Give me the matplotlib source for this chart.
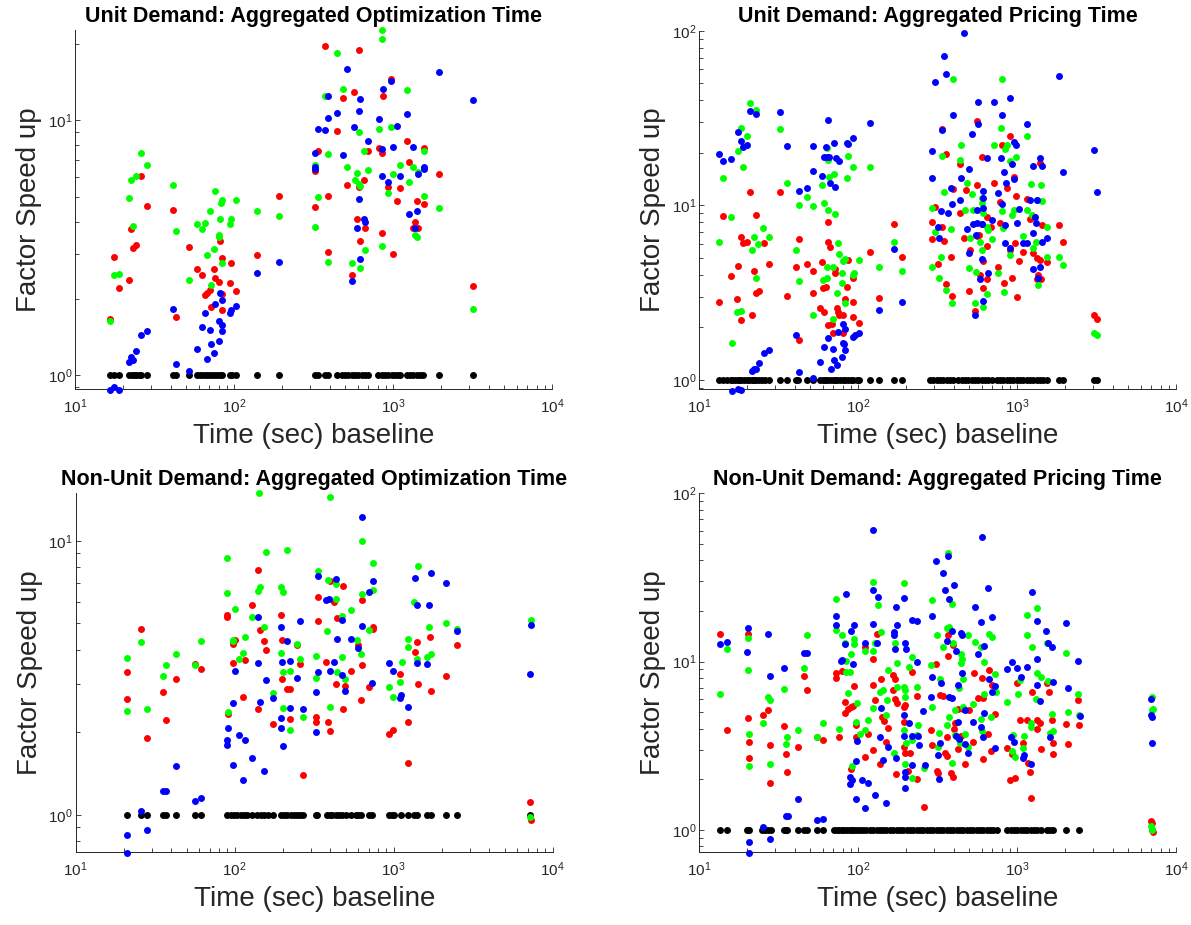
import numpy as np
import matplotlib
matplotlib.use("Agg")
import matplotlib.pyplot as plt
from matplotlib.ticker import LogLocator, NullFormatter

plt.rcParams['font.family'] = ['Liberation Sans', 'DejaVu Sans']
plt.rcParams['mathtext.fontset'] = 'custom'
plt.rcParams['mathtext.rm'] = 'Liberation Sans'
plt.rcParams['mathtext.it'] = 'Liberation Sans:italic'
plt.rcParams['mathtext.bf'] = 'Liberation Sans:bold'

# ---------------- data ----------------
titles = ["Unit Demand: Aggregated Optimization Time",
          "Unit Demand: Aggregated Pricing Time",
          "Non-Unit Demand: Aggregated Optimization Time",
          "Non-Unit Demand: Aggregated Pricing Time"]
xlabel_text = "Time (sec) baseline"
ylabel_text = "Factor Speed up"
baseline_speedup = 1.0

# Panel 1: Unit demand, optimization time
p1_black_x = [16.6, 17.6, 18.9, 22.0, 22.7, 23.5, 24.2, 25.1, 26.0, 28.2, 41.5, 43.2, 52.4, 58.2, 60.9,
              63.9, 66.8, 69.1, 71.7, 75.3, 77.9, 81.7, 83.6, 94.4, 96.8, 102.5, 139, 192,
              323, 339, 373, 392, 442, 475, 500, 524, 550, 577, 605, 635, 667, 700, 810, 849, 891,
              935, 981, 1030, 1080, 1107, 1222, 1283, 1343, 1410, 1480, 1553, 1955, 3200]
p1_red = [(16.6, 1.66), (17.6, 2.90), (18.9, 2.21), (22.0, 2.37), (22.5, 3.74), (23.1, 3.17), (24.2, 3.24),
          (25.9, 6.03), (28.2, 4.61), (41.5, 4.45), (43.2, 1.70), (52.4, 3.18), (58.2, 2.61), (62.6, 2.47),
          (65.8, 2.07), (68, 2.10), (70.6, 2.16), (71.3, 1.85), (74.8, 2.61), (75.9, 2.40), (80.5, 2.33),
          (81.7, 3.37), (83.5, 2.89), (83.5, 2.08), (83.5, 1.80), (94.4, 2.31), (96.2, 2.77), (102.5, 2.15),
          (139, 2.96), (192, 5.03),
          (373, 19.6), (614, 18.9), (971, 14.5), (570, 12.9), (487, 12.2), (869, 12.5), (442, 9.1), (339, 7.56),
          (700, 7.6), (813, 7.8), (849, 7.45), (1231, 8.3), (1567, 7.8), (323, 6.34), (1267, 6.87),
          (1955, 6.15), (660, 5.86), (512, 5.57), (614, 5.48), (926, 5.48), (1107, 5.43), (388, 5.04),
          (1054, 4.82), (1422, 4.85), (1567, 4.72), (323, 4.58), (597, 4.09), (667, 3.77), (1375, 4.0),
          (1343, 3.77), (1443, 3.78), (620, 3.36), (849, 3.62), (392, 3.04), (1005, 2.99), (550, 2.48),
          (3200, 2.25)]
p1_green = [(16.6, 1.64), (17.6, 2.48), (18.9, 2.50), (22.0, 4.94), (22.5, 5.83), (24.1, 6.04), (23.1, 3.85),
            (25.9, 7.45), (28.2, 6.67), (41.5, 5.58), (43.2, 3.69), (52.4, 2.37), (58.2, 3.92), (62.6, 3.75),
            (65.8, 3.95), (68, 2.96), (70.6, 4.42), (71.3, 2.26), (74.8, 3.14), (75.9, 5.27), (80.5, 3.55),
            (80.5, 3.50), (81.7, 4.11), (82.8, 4.75), (83.5, 4.88), (83.5, 2.77), (94.4, 3.91), (96.2, 4.09),
            (102.5, 4.86), (139, 4.41), (192, 4.22),
            (849, 22.5), (849, 20.9), (442, 18.3), (487, 13.3), (373, 12.5), (1231, 13.2), (614, 9.0),
            (813, 9.22), (971, 9.4), (660, 7.6), (1567, 7.6), (388, 7.35), (323, 6.71), (512, 6.55),
            (700, 6.41), (1107, 6.71), (1343, 6.57), (1005, 6.15), (1443, 6.3), (597, 6.19), (577, 5.86),
            (614, 5.65), (620, 5.55), (1267, 5.74), (926, 5.19), (339, 5.0), (1567, 5.04), (1955, 4.55),
            (323, 3.83), (849, 3.22), (667, 3.10), (392, 2.79), (550, 2.75), (620, 2.64), (1375, 3.55),
            (1422, 3.50), (3200, 1.82)]
p1_blue = [(16.6, 0.875), (17.6, 0.898), (18.9, 0.88), (22.0, 1.127), (22.5, 1.186), (23.1, 1.145),
           (24.2, 1.25), (25.9, 1.44), (28.2, 1.50), (41.5, 1.82), (43.2, 1.11), (52.4, 1.04), (58.2, 1.27),
           (62.6, 1.55), (65.8, 1.75), (68, 1.16), (70.6, 1.51), (71.3, 1.33), (74.8, 1.23), (75.9, 1.91),
           (80.5, 1.63), (80.5, 1.36), (81.7, 2.11), (83.5, 1.98), (83.5, 1.58), (83.5, 1.49), (94.4, 1.76),
           (96.2, 1.81), (102.5, 1.87), (139, 2.51), (192, 2.79),
           (512, 15.9), (1955, 15.5), (971, 14.2), (869, 13.3), (388, 12.5), (620, 12.1), (3200, 12.0),
           (614, 10.9), (442, 10.7), (1231, 10.6), (392, 10.2), (813, 10.15), (339, 9.25), (373, 9.14),
           (570, 9.42), (1054, 9.48), (700, 8.3), (849, 7.75), (1005, 7.85), (1343, 7.85), (323, 7.47),
           (487, 7.3), (323, 6.57), (323, 6.47), (1567, 6.47), (1567, 6.57), (1443, 6.15), (849, 6.05),
           (1107, 6.05), (926, 5.71), (614, 4.92), (1267, 4.29), (1422, 4.42), (660, 4.1), (667, 4.0),
           (597, 3.79), (1375, 3.80), (620, 2.85), (550, 2.35)]

# Panel 2: Unit demand, pricing time
p2_black_x = [13.4, 14.1, 15.1, 15.8, 16.2, 16.9, 17.5, 17.9, 18.5, 19.2, 19.9, 20.7, 21.4, 22.2, 22.8,
              23.8, 24.8, 26.0, 27.7, 32.3, 35.9, 40.7, 42.2, 47.6, 51.9, 57.7, 59.9, 62.0, 64.1, 66.7,
              69.3, 71.6, 74.1, 77, 80, 82.8, 86.9, 89.9, 93.4, 98.1, 101.5, 119, 136, 168, 189,
              284, 298, 313, 328, 344, 361, 379, 398, 428, 449, 471, 494, 519, 544, 571, 600, 629, 660,
              693, 745, 782, 820, 861, 904, 948, 995, 1044, 1097, 1151, 1207, 1267, 1330, 1396, 1465,
              1537, 1846, 1960, 3030, 3170]
p2_red = [(13.4, 2.79), (14.1, 8.68), (15.8, 3.94), (17.3, 2.92), (17.7, 4.49), (18.3, 6.61), (18.8, 6.11),
          (18.5, 2.21), (19.9, 6.19), (20.9, 12.0), (21.4, 2.36), (22.2, 4.22), (22.8, 8.75), (22.8, 3.16),
          (23.8, 3.22), (25.6, 6.06), (27.7, 4.61), (32.3, 12.0), (35.9, 3.03), (40.7, 4.45), (42.6, 6.39),
          (42.6, 1.69), (47.6, 4.61), (51.9, 4.22), (51.9, 3.16), (57.7, 2.60), (59.1, 4.76), (60.5, 3.35),
          (61.1, 2.46), (62.5, 3.42), (65, 8.0), (65, 6.19), (66.7, 5.80), (65, 2.07), (68.3, 2.09),
          (69.9, 1.86), (71.6, 4.35), (71.6, 4.08), (73.4, 2.60), (75.2, 2.46), (76, 2.36), (80.9, 2.36),
          (80.9, 1.86), (82.8, 2.90), (84.9, 3.42), (86.9, 4.86), (92.5, 3.82), (93.4, 2.78), (92.5, 2.30),
          (101, 2.13), (119, 5.43), (136, 2.96), (168, 7.81), (189, 5.05),
          (336, 27.5), (564, 30.4), (904, 25), (801, 22.1), (360, 19.6), (600, 19), (438, 17.3), (1396, 17.4),
          (960, 14.6), (564, 13.0), (717, 13.4), (861, 12.6), (398, 12.4), (479, 12.2), (1151, 10.9),
          (990, 11.3), (782, 10.5), (305, 9.78), (438, 9.1), (645, 8.55), (690, 7.54), (1207, 8.31),
          (782, 7.89), (1430, 7.7), (1846, 7.7), (291, 8.0), (336, 7.54), (600, 7.8), (557, 6.67),
          (464, 6.47), (291, 6.45), (349, 6.28), (578, 6.73), (971, 6.05), (1957, 6.19), (508, 5.55),
          (652, 5.85), (904, 5.55), (1097, 5.43), (382, 5.04), (1255, 5.31), (1330, 4.98), (1396, 4.88),
          (1537, 4.71), (1035, 4.82), (608, 4.82), (320, 4.59), (763, 4.45), (1346, 3.99), (1330, 3.77),
          (1413, 3.80), (585, 3.99), (926, 3.82), (652, 3.77), (831, 3.61), (614, 3.35), (357, 3.55),
          (390, 3.03), (501, 3.23), (995, 3.0), (544, 2.48), (3050, 2.36), (3170, 2.24)]
p2_green = [(13.4, 6.13), (14.1, 14.3), (15.8, 8.61), (16.2, 1.64), (17.3, 2.46), (17.7, 20.6), (18.3, 27.9),
            (18.8, 16.6), (19.9, 24.9), (20.9, 38.7), (21.4, 5.55), (22.2, 6.61), (22.8, 35.1), (22.8, 3.82),
            (23.6, 6.0), (25.4, 7.45), (27.7, 6.61), (18.5, 2.49), (32.3, 27.3), (35.9, 13.5), (40.7, 5.55),
            (42.6, 10.1), (42.6, 3.70), (47.6, 11.1), (51.9, 9.91), (51.9, 2.36), (59.1, 13.1), (61.1, 10.3),
            (63.5, 21.2), (65, 9.45), (65, 18.3), (65.8, 14.6), (70.6, 15.1), (71.6, 8.92), (63.5, 4.41),
            (63.5, 3.82), (60.5, 3.73), (69.9, 4.41), (73.4, 3.13), (75.2, 6.06), (76.3, 5.27), (78.9, 4.08),
            (78.9, 3.58), (80.9, 4.83), (82.8, 4.91), (82.8, 2.75), (69.9, 2.25), (84.9, 14.4), (86.9, 19.2),
            (92.5, 16.6), (92.5, 3.99), (94.3, 4.08), (101, 4.86), (119, 16.6), (136, 4.41), (168, 6.19),
            (189, 4.22),
            (398, 52.6), (801, 52.6), (795, 27.8), (1151, 24.9), (442, 22.3), (717, 22.3), (861, 22.3),
            (841, 20.9), (336, 19.2), (438, 18.3), (990, 18.9), (898, 18.0), (482, 13.5), (1219, 13.2),
            (1410, 13.0), (349, 12.0), (519, 11.6), (605, 11.0), (605, 10.3), (291, 9.7), (474, 9.4),
            (531, 9.35), (608, 9.1), (801, 9.3), (960, 9.35), (1151, 9.35), (1330, 10.7), (1430, 10.6),
            (926, 8.8), (1237, 8.8), (382, 7.29), (305, 7.06), (645, 7.54), (660, 7.24), (820, 7.4),
            (1537, 7.54), (508, 6.47), (585, 6.19), (693, 6.4), (1097, 6.67), (1267, 5.67), (1315, 6.19),
            (600, 5.55), (910, 5.19), (334, 5.04), (291, 4.45), (501, 4.36), (551, 4.14), (763, 4.08),
            (1537, 5.04), (1846, 5.04), (1936, 4.55), (323, 3.82), (360, 3.27), (652, 3.11), (831, 3.20),
            (1362, 3.50), (390, 2.77), (544, 2.75), (614, 2.63), (3050, 1.87), (3170, 1.81)]
p2_blue = [(13.4, 19.6), (14.1, 18.0), (15.8, 18.4), (17.7, 26.4), (18.3, 23.4), (18.8, 21.5), (19.9, 22.1),
           (20.9, 34.8), (22.8, 33.2), (32.3, 34.1), (35.9, 21.8), (42.6, 12.1), (47.6, 12.5), (51.9, 21.8),
           (52.4, 15.8), (59.1, 14.7), (61.1, 18.8), (63, 21.5), (63.5, 18.8), (65, 30.7), (65.8, 19.0),
           (66.7, 13.5), (70.6, 22.8), (71.6, 12.8), (72.7, 18.6), (75.9, 17.9), (84.9, 22.8), (86.9, 22.4),
           (92.5, 24.2), (119, 29.5), (168, 5.60), (136, 2.52), (189, 2.79),
           (16.2, 0.87), (17.5, 0.89), (18.5, 0.875), (21.4, 1.12), (22.2, 1.15), (22.8, 1.16), (23.8, 1.25),
           (25.6, 1.43), (27.7, 1.48), (40.7, 1.81), (42.6, 1.11), (51.9, 1.03), (57.7, 1.27), (61.1, 1.55),
           (65, 1.73), (67.3, 1.15), (69.9, 1.50), (70.6, 1.31), (74.1, 1.22), (75.2, 1.88), (78.9, 1.36),
           (80, 2.10), (80.9, 1.64), (81.6, 1.60), (82.8, 1.96), (82.8, 1.48), (92.5, 1.76), (95.5, 1.81),
           (101, 1.87),
           (467, 96.5), (349, 71.6), (357, 56.5), (305, 51.0), (1846, 55), (571, 38.9), (717, 38.9),
           (904, 41.3), (398, 32.9), (801, 32.9), (336, 27), (571, 29.1), (1151, 29.1), (519, 25.5),
           (960, 23.1), (990, 22.1), (291, 20.5), (3050, 20.7), (651, 18.6), (795, 18.6), (926, 17.3),
           (1396, 18.6), (1255, 16.7), (1430, 16.8), (501, 16.1), (1936, 15.6), (823, 15.6), (291, 14.4),
           (442, 14.4), (960, 14.2), (853, 13.4), (3170, 12.0), (385, 12.5), (608, 12.1), (763, 11.8),
           (608, 11.0), (801, 10.2), (438, 10.7), (388, 10.2), (1207, 10.7), (1330, 10.7), (331, 9.25),
           (370, 9.1), (1035, 9.48), (564, 9.4), (608, 9.6), (693, 8.25), (1298, 8.61), (320, 7.5),
           (531, 7.8), (557, 7.95), (600, 7.8), (841, 7.7), (995, 7.89), (482, 7.29), (1315, 7.89),
           (1267, 6.97), (323, 6.47), (1537, 6.47), (1430, 6.13), (551, 6.75), (841, 6.05), (1097, 6.05),
           (1151, 6.05), (910, 5.67), (501, 5.31), (600, 4.91), (1255, 4.30), (1396, 4.42), (585, 3.78),
           (660, 4.08), (1346, 3.82), (614, 2.84), (544, 2.36)]

# Panel 3: Non-unit demand, optimization time
p3_black_x = [20.9, 25.6, 28.2, 35.6, 36.8, 43.0, 56.3, 61.7, 89.1, 94.4, 99.0, 104, 109, 114, 120, 129,
              138, 146, 153, 161, 175, 195, 204, 214, 225, 236, 248, 258, 267,
              323, 331, 383, 398, 411, 432, 454, 475, 500, 537, 577, 597, 620, 700, 734, 935, 981, 1005,
              1107, 1222, 1343, 1410, 1629, 1708, 2123, 2517, 7166]
p3_red = [(20.9, 3.33), (20.9, 2.64), (25.6, 4.77), (28.2, 1.90), (35.6, 2.81), (36.8, 2.21), (43.0, 3.13),
          (56.3, 3.55), (61.7, 3.40), (89.1, 5.37), (89.1, 5.25), (91.3, 2.33), (98.1, 4.20), (100, 4.35),
          (98.1, 3.58), (113, 2.70), (116, 3.68), (129, 5.84), (140, 7.84), (144, 4.71), (140, 2.44),
          (152, 4.32), (157, 4.0), (175, 2.14), (195, 5.36), (197, 4.35), (197, 3.13), (214, 2.87),
          (222, 2.87), (222, 2.23), (248, 4.15), (258, 3.56), (267, 1.40),
          (395, 7.14), (480, 6.86), (336, 6.26), (629, 6.06), (422, 6.0), (336, 5.1), (438, 5.21),
          (741, 4.85), (741, 4.77), (597, 4.16), (1683, 4.47), (1409, 4.26), (1356, 3.92), (2517, 4.17),
          (373, 3.60), (537, 3.35), (633, 3.52), (1097, 3.27), (432, 3.0), (494, 2.96), (700, 2.94),
          (1422, 2.99), (2123, 3.20), (1726, 2.84), (480, 2.43), (620, 2.63), (323, 2.27), (323, 2.18),
          (385, 2.18), (398, 2.03), (1231, 2.19), (935, 1.98), (990, 2.04), (1231, 1.54), (7166, 1.11),
          (7280, 0.96)]
p3_green = [(20.9, 3.73), (20.9, 2.40), (25.6, 4.29), (28.2, 2.44), (35.6, 3.21), (36.8, 3.52), (43.0, 3.85),
            (56.3, 3.51), (61.7, 4.32), (89.1, 8.65), (89.1, 6.44), (91.3, 2.37), (98.1, 4.35), (98.1, 4.3),
            (100, 5.63), (107, 3.70), (113, 3.89), (116, 4.47), (129, 5.26), (140, 6.57), (144, 6.81),
            (142, 14.9), (152, 4.84), (157, 9.09), (175, 2.78), (195, 6.81), (200, 6.48), (195, 3.91),
            (200, 3.31), (200, 2.45), (214, 9.22), (222, 2.04), (222, 3.36), (248, 4.19), (258, 3.70),
            (267, 2.28),
            (395, 14.4), (629, 9.94), (741, 8.33), (336, 7.79), (388, 7.2), (1422, 8.11), (629, 6.39),
            (436, 6.94), (741, 6.59), (436, 6.14), (475, 5.3), (537, 5.57), (1343, 5.96), (1667, 4.85),
            (2123, 5.01), (2517, 4.78), (378, 4.67), (700, 4.71), (590, 4.35), (1231, 4.38), (1231, 4.08),
            (620, 3.86), (323, 3.81), (475, 3.78), (1122, 3.61), (1409, 3.70), (1629, 3.76), (1726, 3.85),
            (438, 3.31), (323, 3.17), (494, 3.13), (935, 2.94), (1097, 3.06), (990, 2.69), (398, 2.47),
            (7280, 5.13), (7166, 0.985)]
p3_blue = [(20.9, 0.845), (20.9, 0.725), (25.6, 1.03), (28.2, 0.88), (35.6, 1.22), (36.8, 1.22), (43.0, 1.51),
           (56.3, 1.12), (61.7, 1.15), (89.1, 1.88), (89.9, 1.80), (91.3, 2.07), (98.1, 2.56), (100, 3.36),
           (98.1, 1.52), (107, 1.96), (113, 1.34), (116, 1.88), (129, 1.61), (140, 5.29), (140, 3.58),
           (144, 2.59), (152, 1.44), (157, 3.11), (175, 2.67), (195, 4.83), (197, 3.60), (195, 2.25),
           (195, 2.07), (200, 1.78), (214, 4.32), (222, 3.63), (222, 2.45), (248, 3.16), (258, 5.08),
           (267, 2.43),
           (629, 12.2), (336, 7.41), (432, 7.23), (741, 7.14), (700, 6.53), (1356, 7.29), (1726, 7.62),
           (2123, 7.01), (373, 6.06), (392, 6.12), (1409, 5.84), (1667, 5.81), (475, 5.16), (629, 4.88),
           (2517, 4.69), (438, 4.38), (537, 4.38), (597, 4.07), (422, 3.61), (398, 3.36), (336, 3.31),
           (935, 3.57), (990, 3.35), (1409, 3.58), (1629, 3.56), (475, 3.25), (494, 2.84), (323, 2.80),
           (734, 3.04), (1118, 2.74), (1097, 2.66), (1231, 2.47), (323, 2.01), (7166, 3.27), (7280, 4.94)]

# Panel 4: Non-unit demand, pricing time
p4_black_x = [13.6, 15.1, 19.9, 20.4, 20.7, 24.8, 26.0, 27.3, 28.2, 34.4, 35.2, 35.9, 42.2, 45.9, 47.6,
              55.5, 60.5, 70.6, 73.4, 76.3, 78.9, 81.6, 84.9, 88.5, 91.2, 94.3, 98.1, 103, 108, 113, 119,
              125, 131, 137, 144, 151, 159, 167, 175, 184, 193, 202, 212, 223, 234, 245,
              258, 270, 284, 298, 313, 328, 344, 361, 379, 398, 418, 438, 459, 482, 506, 531, 557, 585,
              614, 645, 676, 710, 745, 869, 913, 958, 1005, 1055, 1107, 1161, 1219, 1280, 1343, 1409,
              1537, 1612, 1693, 2025, 2445, 7070]
p4_red = [(13.6, 14.6), (15.1, 3.93), (20.2, 14.6), (20.2, 4.61), (20.6, 3.35), (20.6, 2.67), (25.4, 4.82),
          (27.3, 5.16), (28.0, 3.18), (28.0, 1.91), (34.4, 4.15), (35.2, 2.83), (35.9, 2.22), (42.2, 3.13),
          (45.9, 8.22), (47.6, 6.79), (55.5, 3.55), (60.5, 3.43), (72.5, 8.6), (72.5, 7.96), (76.3, 3.55),
          (79.5, 8.8), (82.8, 5.79), (82.8, 4.98), (86.9, 5.2), (89.9, 2.29), (89.9, 5.4), (93.4, 5.45),
          (94.3, 7.2), (97.2, 4.21), (96.8, 3.58), (110, 12.3), (111, 2.73), (115, 3.72), (125, 10.4),
          (124, 7.27), (128, 5.92), (125, 2.97), (131, 14.6), (139, 7.86), (137, 2.47), (141, 4.71),
          (145, 4.47), (151, 3.35), (155, 4.02), (167, 8.34), (171, 7.86), (167, 6.79), (171, 5.98),
          (175, 5.71), (173, 2.15), (195, 5.4), (198, 5.53), (195, 4.40), (195, 3.13), (198, 2.88),
          (212, 2.88), (205, 2.25), (220, 8.72), (236, 2.02), (234, 6.25),
          (370, 14.4), (398, 12.6), (366, 10.8), (310, 9.65), (539, 8.6), (600, 7.96), (670, 8.95),
          (700, 7.27), (571, 6.06), (608, 6.06), (328, 6.34), (344, 6.25), (1248, 6.64), (995, 7.5),
          (1537, 7.5), (1590, 6.64), (2432, 5.92), (2470, 4.21), (2025, 4.27), (1652, 4.5), (1680, 3.27),
          (1693, 2.82), (1044, 4.5), (1151, 4.5), (1330, 4.5), (1396, 4.30), (1330, 3.97), (2083, 3.24),
          (428, 5.2), (458, 5.2), (501, 5.16), (727, 4.9), (289, 3.93), (403, 3.97), (408, 4.30),
          (446, 3.62), (526, 3.35), (660, 3.72), (291, 3.2), (361, 3.58), (428, 3.03), (352, 2.85),
          (364, 2.76), (315, 2.25), (320, 2.17), (385, 2.17), (398, 2.06), (471, 2.46), (608, 2.64),
          (686, 2.96), (869, 3.06), (926, 2.82), (1087, 3.27), (1168, 2.49), (1207, 2.20), (1409, 3.03),
          (904, 1.98), (971, 2.05), (1225, 1.54), (260, 1.37), (6930, 1.13), (7100, 1.10), (7200, 0.977)]
p4_green = [(13.6, 6.4), (15.1, 11.9), (20.2, 8.95), (20.2, 13.9), (20.6, 3.7), (20.6, 2.4), (25.4, 4.3),
            (27.3, 6.15), (28.0, 5.92), (28.0, 2.46), (34.4, 6.86), (35.2, 3.22), (35.9, 3.55), (42.2, 3.9),
            (45.9, 9.13), (47.6, 14.3), (55.5, 3.55), (60.5, 4.34), (72.5, 23.7), (72.5, 15.5), (76.3, 3.97),
            (79.5, 14.3), (82.8, 12.9), (83.9, 10.1), (83.5, 8.72), (88.5, 8.66), (86.9, 6.5), (89.9, 11.1),
            (94.3, 13.6), (94.3, 12.8), (96.8, 4.36), (98.1, 5.66), (91.2, 2.39), (103, 3.72), (110, 11.5),
            (111, 3.93), (115, 4.5), (124, 29.9), (125, 11.6), (127, 12.9), (125, 5.28), (134, 21.7),
            (140, 14.9), (137, 6.58), (143, 6.79), (150, 4.82), (153, 5.92), (155, 8.95), (168, 2.85),
            (171, 12.9), (175, 9.78), (175, 7.05), (195, 29.5), (195, 7.05), (198, 6.79), (198, 6.15),
            (195, 3.93), (200, 3.27), (198, 2.47), (210, 9.24), (218, 10.6), (220, 3.43), (220, 2.05),
            (236, 7.05), (240, 4.21), (236, 3.67),
            (370, 44), (392, 22.0), (294, 23.1), (314, 14.3), (344, 12.3), (364, 15.8), (374, 16.1),
            (398, 12.9), (494, 14.4), (544, 13.0), (594, 12.3), (617, 9.97), (670, 14.5), (693, 14.1),
            (442, 11.1), (449, 10.3), (442, 9.78), (289, 9.5), (328, 7.86), (434, 6.95), (455, 7.86),
            (727, 8.45), (738, 6.6), (617, 6.43), (1151, 18.9), (1330, 20.7), (1248, 12.3), (1161, 14.4),
            (1537, 12.9), (2025, 11.2), (1330, 8.6), (1409, 8.1), (1574, 7.7), (1044, 7.78), (1009, 6.43),
            (1316, 5.98), (869, 5.73), (291, 5.4), (372, 4.68), (408, 5.16), (458, 5.36), (531, 5.6),
            (591, 4.54), (686, 4.71), (1652, 4.9), (2083, 5.05), (2432, 6.43), (2470, 4.82), (323, 3.79),
            (361, 4.21), (408, 3.67), (437, 3.27), (471, 3.72), (494, 3.13), (600, 3.88), (940, 3.67),
            (1112, 3.62), (926, 2.96), (971, 2.71), (1087, 3.06), (1222, 4.07), (1222, 4.34), (1612, 3.75),
            (1693, 3.88), (392, 2.49), (260, 2.33), (320, 3.13), (7100, 6.2), (7100, 5.16), (7200, 5.2),
            (6950, 1.05), (7100, 1.0)]
p4_blue = [(13.6, 12.7), (15.1, 13.1), (20.2, 15.9), (19.9, 11.4), (20.6, 0.853), (20.6, 0.733), (27.3, 14.6),
           (28.0, 8.25), (25.4, 1.04), (28.0, 0.885), (34.4, 9.2), (35.2, 1.21), (36.4, 1.21), (42.2, 1.52),
           (45.9, 11.2), (47.6, 11.3), (55.5, 1.14), (60.5, 1.17), (72.5, 18.7), (72.5, 16.6), (78.9, 10.2),
           (78, 10.1), (83.5, 25.1), (82.8, 12.7), (89.9, 15.3), (94.3, 16.4), (93.4, 9.7), (98.1, 3.4),
           (97.2, 2.57), (88.5, 1.87), (89, 2.07), (91.2, 1.97), (96.8, 1.53), (106, 1.98), (111, 1.35),
           (115, 1.89), (110, 12.9), (125, 60.6), (125, 26.7), (134, 24.3), (124, 16.8), (131, 12.9),
           (128, 1.61), (140, 5.28), (137, 3.58), (143, 2.61), (150, 1.45), (155, 3.13), (168, 15.1),
           (169, 14.3), (171, 11.9), (173, 2.69), (173, 21.0), (177, 16.4), (195, 24.0), (198, 12.9),
           (199, 11.9), (195, 4.82), (195, 3.6), (198, 2.22), (198, 2.07), (198, 1.77), (210, 4.3),
           (218, 17.7), (236, 17.5), (236, 10.0), (243, 3.2), (240, 3.6), (220, 3.6), (220, 2.44),
           (600, 55.3), (370, 42.5), (308, 39.7), (344, 33.5), (403, 28.6), (352, 26.7), (654, 27.3),
           (1248, 25.8), (374, 23.5), (544, 21.0), (294, 18.7), (1330, 17.5), (594, 17.1), (700, 18.5),
           (2025, 17.0), (442, 14.7), (449, 14.4), (392, 15.3), (361, 13.3), (1521, 15.3), (1574, 12.9),
           (1652, 12.3), (411, 11.5), (623, 12.4), (567, 11.1), (926, 10.0), (869, 9.1), (995, 9.18),
           (1151, 9.24), (1060, 8.15), (1330, 10.3), (2432, 10.1), (291, 8.15), (449, 8.6), (670, 7.9),
           (1693, 7.6), (727, 7.17), (428, 7.27), (1330, 7.27), (333, 7.43), (287, 6.20), (374, 6.15),
           (392, 6.12), (693, 6.6), (2083, 7.0), (1396, 5.87), (255, 5.1), (471, 5.16), (620, 4.94),
           (428, 4.40), (526, 4.40), (594, 4.07), (2490, 4.77), (328, 3.3), (413, 3.62), (434, 3.46),
           (471, 3.24), (490, 2.85), (608, 3.58), (727, 3.06), (913, 3.58), (962, 3.35), (1087, 2.67),
           (1112, 2.79), (1225, 2.47), (1612, 3.58), (320, 2.79), (262, 2.44), (323, 2.02), (6930, 5.98),
           (7100, 4.71), (6930, 4.82), (7100, 3.30)]

panels = [
    dict(black=p1_black_x, red=p1_red, green=p1_green, blue=p1_blue, ylim=(0.885, 22.6)),
    dict(black=p2_black_x, red=p2_red, green=p2_green, blue=p2_blue, ylim=(0.885, 100)),
    dict(black=p3_black_x, red=p3_red, green=p3_green, blue=p3_blue, ylim=(0.734, 14.9)),
    dict(black=p4_black_x, red=p4_red, green=p4_green, blue=p4_blue, ylim=(0.743, 100)),
]

# ---------------- layout ----------------
W, H = 1191, 925
fig = plt.figure(figsize=(W / 100, H / 100), dpi=100)
boxes = [(75, 30, 477, 359), (699, 30.7, 477, 358.6),
         (75.7, 493.3, 477, 358.4), (699, 493.3, 477, 358.4)]
axc = '#262626'
ms = 25

for i, (p, (l, t, w, h)) in enumerate(zip(panels, boxes)):
    ax = fig.add_axes([l / W, (H - t - h) / H, w / W, h / H])
    ax.set_xscale('log')
    ax.set_yscale('log')
    bx = np.array(p['black'], dtype=float)
    ax.scatter(bx, np.full(bx.shape, baseline_speedup), s=ms, c='black', linewidths=0, clip_on=False, zorder=2)
    for col, key, z in (('#ff0000', 'red', 3), ('#00ff00', 'green', 4), ('#0000ff', 'blue', 5)):
        arr = np.array(p[key], dtype=float)
        ax.scatter(arr[:, 0], arr[:, 1], s=ms, c=col, linewidths=0, clip_on=False, zorder=z)
    ax.set_xlim(10, 1e4)
    ax.set_ylim(*p['ylim'])
    ax.xaxis.set_major_locator(LogLocator(base=10, numticks=10))
    ax.xaxis.set_minor_locator(LogLocator(base=10, subs=np.arange(2, 10), numticks=20))
    ax.yaxis.set_minor_locator(LogLocator(base=10, subs=np.arange(2, 10), numticks=20))
    ax.xaxis.set_minor_formatter(NullFormatter())
    ax.yaxis.set_minor_formatter(NullFormatter())
    for s in ('top', 'right'):
        ax.spines[s].set_visible(False)
    for s in ('left', 'bottom'):
        ax.spines[s].set_color(axc)
        ax.spines[s].set_linewidth(0.7)
    ax.tick_params(which='both', direction='in', color=axc, labelcolor=axc, width=0.6)
    ax.tick_params(which='major', length=3.8, labelsize=11)
    ax.tick_params(which='minor', length=2.8)
    ax.tick_params(axis='x', which='major', pad=6)
    ax.tick_params(axis='y', which='major', pad=2)
    ax.set_xlabel(xlabel_text, fontsize=20, color=axc, labelpad=5)
    ax.set_ylabel(ylabel_text, fontsize=20, color=axc, labelpad=4)
    ax.set_title(titles[i], fontsize=15.5, fontweight='bold', color='black', pad=6)

fig.savefig('out.png', dpi=100)
